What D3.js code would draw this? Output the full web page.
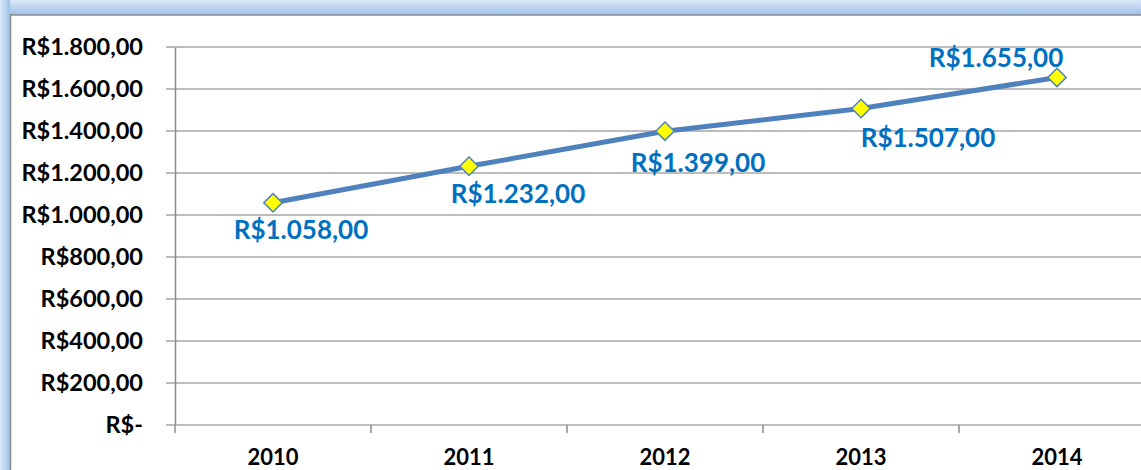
<!DOCTYPE html>
<html><head><meta charset="utf-8">
<script src="https://cdn.jsdelivr.net/npm/d3@7"></script>
<style>body{margin:0;background:#fff;overflow:hidden}</style>
</head><body>
<script>
const categories = ["2010","2011","2012","2013","2014"];
const values = [1058, 1232, 1399, 1507, 1655];
const dataLabels = ["R$1.058,00","R$1.232,00","R$1.399,00","R$1.507,00","R$1.655,00"];
const yTicks = [0,200,400,600,800,1000,1200,1400,1600,1800];
const yTickLabels = ["R$-","R$200,00","R$400,00","R$600,00","R$800,00","R$1.000,00","R$1.200,00","R$1.400,00","R$1.600,00","R$1.800,00"];

const W = 1141, H = 470;
const svg = d3.select("body").append("svg").attr("width", W).attr("height", H);
const defs = svg.append("defs");
const gt = defs.append("linearGradient").attr("id","gt").attr("x1",0).attr("y1",0).attr("x2",0).attr("y2",1);
gt.append("stop").attr("offset","0").attr("stop-color","#dbe9f8");
gt.append("stop").attr("offset","1").attr("stop-color","#9cc0ea");
const gl = defs.append("linearGradient").attr("id","gl").attr("x1",0).attr("y1",0).attr("x2",1).attr("y2",0);
gl.append("stop").attr("offset","0").attr("stop-color","#dbe9f8");
gl.append("stop").attr("offset","1").attr("stop-color","#9cc0ea");

svg.append("rect").attr("x",0).attr("y",0).attr("width",W).attr("height",15).attr("fill","url(#gt)");
svg.append("rect").attr("x",0).attr("y",0).attr("width",10).attr("height",H).attr("fill","url(#gl)");
svg.append("rect").attr("x",10.5).attr("y",15).attr("width",W+10).attr("height",H).attr("fill","#fff").attr("stroke","#8c8c8c").attr("stroke-width",1.5);

const font = "Lato, 'Open Sans', sans-serif";
const y = d3.scaleLinear().domain([0,1800]).range([425,47]);
const x = d3.scaleBand().domain(categories).range([175,1155]);

// gridlines
svg.append("g").selectAll("line").data(yTicks).join("line")
  .attr("x1",166).attr("x2",W).attr("y1",d=>y(d)).attr("y2",d=>y(d))
  .attr("stroke","#a6a6a6").attr("stroke-width",1.5);

// y axis
const yAxis = d3.axisLeft(y).tickValues(yTicks).tickSize(0).tickPadding(32)
  .tickFormat((d,i)=>yTickLabels[i]);
const gy = svg.append("g").attr("transform","translate(175,0)").call(yAxis);
gy.select(".domain").attr("stroke","#8c8c8c").attr("stroke-width",1.5);
gy.selectAll("text").attr("font-family",font).attr("font-weight","bold").attr("font-size","23.5px").attr("fill","#000");

// x axis
const xAxis = d3.axisBottom(x).tickSize(0).tickPadding(24);
const gx = svg.append("g").attr("transform","translate(0,425)").call(xAxis);
gx.select(".domain").remove();
gx.selectAll("text").attr("font-family",font).attr("font-weight","bold").attr("font-size","22px").attr("fill","#000");
// category tick marks at band boundaries
svg.append("g").selectAll("line").data(categories).join("line")
  .attr("x1",d=>x(d)).attr("x2",d=>x(d)).attr("y1",425).attr("y2",433)
  .attr("stroke","#8c8c8c").attr("stroke-width",1.5);

const cx = (d,i)=>x(categories[i])+x.bandwidth()/2;
// line
svg.append("path").datum(values)
  .attr("d", d3.line().x((d,i)=>cx(d,i)).y(d=>y(d)))
  .attr("fill","none").attr("stroke","#4f81bd").attr("stroke-width",5).attr("stroke-linejoin","round");

// markers
svg.append("g").selectAll("path").data(values).join("path")
  .attr("d", d3.symbol().type(d3.symbolSquare).size(170))
  .attr("transform",(d,i)=>`translate(${cx(d,i)},${y(d)}) rotate(45)`)
  .attr("fill","#ffff00").attr("stroke","#4f81bd").attr("stroke-width",1.5);

// data labels (offsets relative to point)
const labelOffsets = [[28,26],[49,27],[33,31],[67,28],[-61,-20]];
svg.append("g").selectAll("text").data(values).join("text")
  .attr("x",(d,i)=>cx(d,i)+labelOffsets[i][0])
  .attr("y",(d,i)=>y(d)+labelOffsets[i][1])
  .attr("text-anchor","middle").attr("dominant-baseline","central")
  .attr("font-family",font).attr("font-weight","bold").attr("font-size","26px")
  .attr("fill","#0070c0")
  .text((d,i)=>dataLabels[i]);
</script>
</body></html>
